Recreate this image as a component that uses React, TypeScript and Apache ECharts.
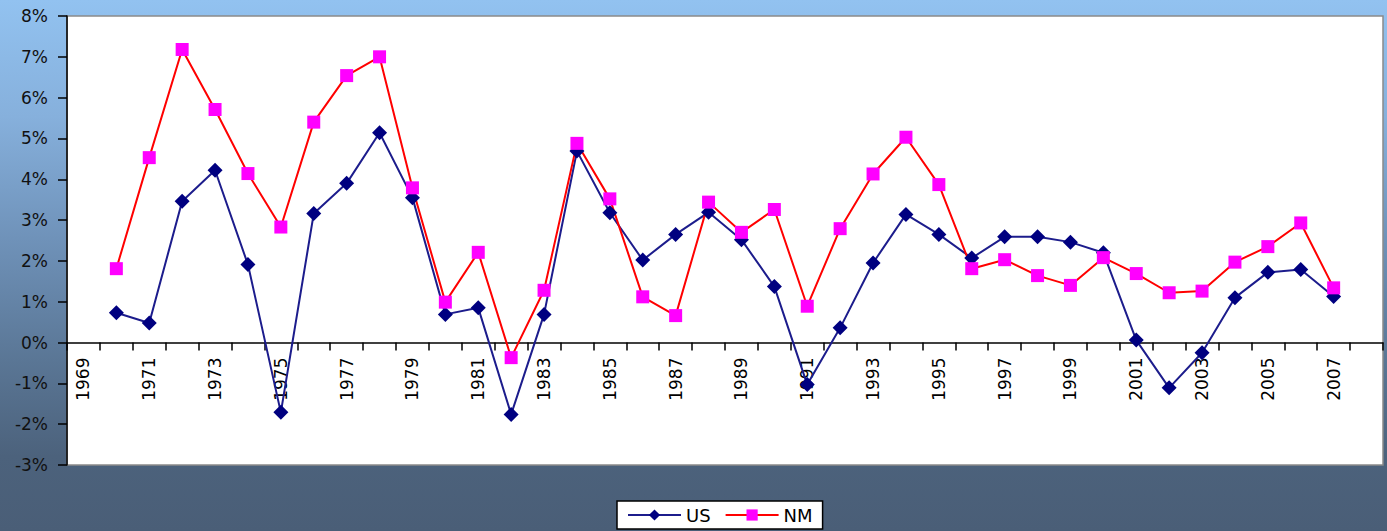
import React, { useEffect, useRef } from "react";
import * as echarts from "echarts";

// Years on the category axis (1969 and 2008 carry no observations)
const years: string[] = [];
for (let y = 1969; y <= 2008; y++) years.push(String(y));

// Annual growth, percent
const usValues: (number | null)[] = [
  null,
  0.73, 0.48, 3.46, 4.22, 1.91, -1.71, 3.16, 3.9, 5.14, 3.55,
  0.69, 0.85, -1.76, 0.69, 4.69, 3.18, 2.02, 2.65, 3.19, 2.52,
  1.37, -1.03, 0.36, 1.95, 3.14, 2.65, 2.07, 2.59, 2.59, 2.46,
  2.2, 0.06, -1.11, -0.25, 1.1, 1.72, 1.79, 1.13,
  null,
];

const nmValues: (number | null)[] = [
  null,
  1.81, 4.53, 7.18, 5.71, 4.14, 2.83, 5.4, 6.54, 7.0, 3.79,
  0.99, 2.21, -0.37, 1.28, 4.88, 3.52, 1.12, 0.66, 3.44, 2.7,
  3.26, 0.89, 2.79, 4.13, 5.03, 3.87, 1.81, 2.03, 1.64, 1.4,
  2.08, 1.69, 1.22, 1.26, 1.97, 2.35, 2.93, 1.34,
  null,
];

const Y_MIN = -3;
const Y_MAX = 8;

const FONT = "'DejaVu Sans', Verdana, sans-serif";

const GRID_TOP = 16;
const GRID_BOTTOM = 66;
const HEIGHT = 531;

export default function App() {
  const ref = useRef<HTMLDivElement>(null);

  useEffect(() => {
    document.body.style.margin = "0";
    if (!ref.current) return;
    const chart = echarts.init(ref.current, undefined, { renderer: "svg" });

    // Lift the category axis (line, ticks and labels) up to the 0% level
    const plotH = HEIGHT - GRID_TOP - GRID_BOTTOM;
    const zeroLift = (plotH * (0 - Y_MIN)) / (Y_MAX - Y_MIN);

    chart.setOption({
      animation: false,
      textStyle: { fontFamily: FONT },
      grid: {
        left: 67,
        top: GRID_TOP,
        right: 4,
        bottom: GRID_BOTTOM,
        show: true,
        backgroundColor: "#ffffff",
        borderColor: "#8a8a8a",
        borderWidth: 1.5,
      },
      legend: {
        left: 617,
        top: 501,
        padding: [5, 10, 5, 10],
        backgroundColor: "#ffffff",
        borderColor: "#000000",
        borderWidth: 1.5,
        borderRadius: 0,
        itemWidth: 53,
        itemHeight: 14,
        itemGap: 14,
        textStyle: { fontSize: 18, color: "#000000", fontFamily: FONT },
        data: ["US", "NM"],
      },
      xAxis: {
        type: "category",
        data: years,
        boundaryGap: true,
        offset: -zeroLift,
        axisLine: { onZero: false, lineStyle: { color: "#000000", width: 1.5 } },
        axisTick: { show: true, interval: 0, length: 8, lineStyle: { color: "#000000", width: 1.5 } },
        axisLabel: {
          interval: 1,
          rotate: 90,
          margin: 15,
          fontSize: 17,
          color: "#000000",
          fontFamily: FONT,
        },
        splitLine: { show: false },
      },
      yAxis: {
        type: "value",
        min: Y_MIN,
        max: Y_MAX,
        interval: 1,
        axisLine: { show: true, lineStyle: { color: "#000000", width: 1.5 } },
        axisTick: { show: true, length: 9, lineStyle: { color: "#000000", width: 1.5 } },
        axisLabel: {
          formatter: "{value}%",
          margin: 19,
          fontSize: 17,
          color: "#111111",
          fontFamily: FONT,
        },
        splitLine: { show: false },
      },
      series: [
        {
          name: "US",
          type: "line",
          data: usValues,
          symbol: "diamond",
          symbolSize: 15,
          itemStyle: { color: "#000080" },
          lineStyle: { color: "#1c1c8c", width: 2 },
        },
        {
          name: "NM",
          type: "line",
          data: nmValues,
          symbol: "rect",
          symbolSize: 13,
          itemStyle: { color: "#ff00ff" },
          lineStyle: { color: "#ff0000", width: 2 },
        },
      ],
    });
    return () => chart.dispose();
  }, []);

  return (
    <div
      ref={ref}
      style={{
        width: 1387,
        height: HEIGHT,
        background:
          "linear-gradient(to bottom, #92c2f0 0%, #86b0dc 22%, #6f92b9 45%, #5a7695 68%, #4c627c 86%, #4a5e77 100%)",
      }}
    />
  );
}
